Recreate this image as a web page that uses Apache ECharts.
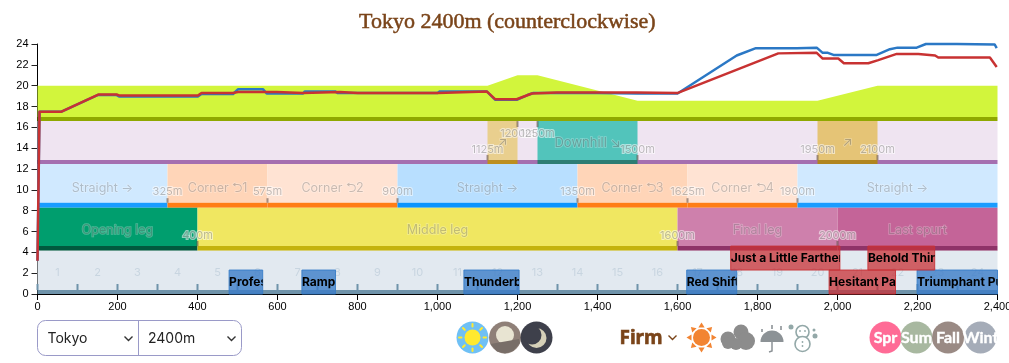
<!DOCTYPE html>
<html><head><meta charset="utf-8">
<style>html,body{margin:0;padding:0;background:#fff;overflow:hidden}#c{width:1009px;height:363px}</style>
<script src="https://cdn.jsdelivr.net/npm/echarts@6/dist/echarts.min.js"></script>
</head><body><div id="c"></div>
<script>
const titleText = 'Tokyo 2400m (counterclockwise)';
const blueSpeed = [[0,3.2],[5,17.5],[60,17.5],[150,19.1],[198,19.1],[205,18.95],[400,18.95],[410,19.2],[489,19.2],[501,19.65],[564,19.65],[573,19.25],[664,19.25],[668,19.45],[744,19.45],[750,19.3],[1000,19.3],[1006,19.45],[1123,19.45],[1144,18.65],[1198,18.65],[1225,19.1],[1240,19.3],[1400,19.3],[1500,19.25],[1600,19.25],[1748,22.9],[1796,23.6],[1898,23.6],[1948,23.65],[1963,23.15],[1976,23.15],[1978,23.05],[1990,22.95],[2098,22.95],[2131,23.5],[2150,23.65],[2198,23.65],[2221,24],[2298,24],[2393,23.95],[2398,23.6]];
const redSpeed = [[0,3.2],[5,17.5],[60,17.5],[152,19.15],[198,19.15],[205,19.05],[401,19.05],[410,19.3],[489,19.3],[501,19.4],[598,19.4],[603,19.3],[664,19.3],[668,19.4],[756,19.4],[801,19.3],[1001,19.3],[1006,19.45],[1123,19.45],[1144,18.7],[1198,18.7],[1236,19.25],[1240,19.35],[1298,19.35],[1302,19.3],[1398,19.35],[1498,19.35],[1502,19.3],[1601,19.3],[1852,23.1],[1948,23.15],[1963,22.6],[2002,22.6],[2016,22.15],[2077,22.15],[2102,22.45],[2148,23.05],[2202,23.05],[2206,22.9],[2244,22.9],[2252,22.7],[2381,22.7],[2398,21.8]];
const elevation = [[0,20],[1125,20],[1200,21],[1250,21],[1500,18.55],[1950,18.55],[2100,20],[2400,20]];
const slopeStart = [1125,1250,1950];
const slopeEnd = [1200,1500,2100];
const slopeName = ['↗','Downhill ↘','↗'];
const slopeFill = ['#e9cf8e','#52c4bb','#e5c476'];
const slopeBase = ['#bd8f1e','#2d7d73','#b0851f'];
const slopeMarks = [1125,1200,1250,1500,1950,2100];
const slopeMarkHigh = [false,true,true,false,false,false];
const cornerStart = [0,325,575,900,1350,1625,1900];
const cornerEnd = [325,575,900,1350,1625,1900,2400];
const cornerName = ['Straight →','Corner ⮌1','Corner ⮌2','Straight →','Corner ⮌3','Corner ⮌4','Straight →'];
const cornerFill = ['#d0e9ff','#ffd5b8','#ffe3d3','#b8dfff','#ffd5b8','#ffe3d3','#d0e9ff'];
const cornerBase = ['#1a9cff','#ff7d15','#ff7d15','#0a94ff','#ff7d15','#ff7d15','#1a9cff'];
const cornerMarks = [325,575,900,1350,1625,1900];
const phaseStart = [0,400,1600,2000];
const phaseEnd = [400,1600,2000,2400];
const phaseName = ['Opening leg','Middle leg','Final leg','Last spurt'];
const phaseFill = ['#009e6e','#f0e761','#ce80ac','#c46498'];
const phaseBase = ['#00593e','#c4b30d','#8f3368','#8f3368'];
const phaseMarks = [400,1600,2000];
const sections = ['1','2','3','4','5','6','7','8','9','10','11','12','13','14','15','16','17','18','19','20','21','22','23','24'];
const skillStart = [479,661,1066,1623,2199,1733,2076,1979];
const skillEnd = [563,745,1204,1748,2420,2006,2243,2145];
const skillName = ['Professor of Curvature','Ramp Revving','Thunderbolt Step','Red Shift','Triumphant Pulse','Just a Little Farther!','Behold Thine Emperor','Hesitant Pace Chasers'];
const skillRow = [0,0,0,0,0,1,1,0];
const skillKind = ['b','b','b','b','b','r','r','r'];

const L = {elevBase:[16.6,17],slope:[12.86,16.6],slopeBase:[12.48,12.86],corner:[8.76,12.48],cornerBase:[8.28,8.76],
  phase:[4.6,8.28],phaseBase:[4.16,4.6],sect:[0.38,4.16],sectBase:[0,0.38]};
const MUTED='rgba(40,40,40,.25)', HALO='rgba(255,255,255,.28)';
const MARK={fill:'rgba(50,50,50,.3)',stroke:'rgba(255,255,255,.55)',lw:2};
const FF='Inter, "Noto Sans", sans-serif';

function rect(api,x0,x1,lane,fill,extra){
  const a=api.coord([x0,lane[1]]), b=api.coord([x1,lane[0]]);
  return Object.assign({type:'rect',shape:{x:a[0],y:a[1],width:b[0]-a[0],height:b[1]-a[1]},style:{fill:fill}},extra||{});
}
function txt(api,x,v,s,o){
  const p=api.coord([x,v]); o=o||{};
  return {type:'text',style:{text:s,x:p[0],y:p[1],align:'center',verticalAlign:'middle',font:(o.font||'11px '+FF),
    fill:o.fill||MUTED,stroke:o.stroke||HALO,lineWidth:o.lw==null?1.5:o.lw}};
}
function tick(api,x,v0,v1,col){
  const a=api.coord([x,v1]),b=api.coord([x,v0]);
  return {type:'rect',shape:{x:a[0]-1,y:a[1],width:2,height:b[1]-a[1]},style:{fill:col||'rgba(90,70,60,.55)'}};
}
function single(fn,z){return {type:'custom',z:z,clip:false,silent:true,data:[[0]],renderItem:(p,api)=>({type:'group',children:fn(api)})};}

const bandsBelow = single(api=>{
  const c=[];
  c.push(rect(api,0,2400,L.elevBase,'#8fa800'));
  c.push(rect(api,0,2400,L.slope,'#efe4f1'));
  c.push(rect(api,0,2400,L.slopeBase,'#a56fb0'));
  slopeStart.forEach((s,i)=>{c.push(rect(api,s,slopeEnd[i],L.slope,slopeFill[i]));c.push(rect(api,s,slopeEnd[i],L.slopeBase,slopeBase[i]));});
  cornerStart.forEach((s,i)=>{c.push(rect(api,s,cornerEnd[i],L.corner,cornerFill[i]));c.push(rect(api,s,cornerEnd[i],L.cornerBase,cornerBase[i]));});
  phaseStart.forEach((s,i)=>{c.push(rect(api,s,phaseEnd[i],L.phase,phaseFill[i]));c.push(rect(api,s,phaseEnd[i],L.phaseBase,phaseBase[i]));});
  c.push(rect(api,0,2400,L.sect,'#e2e9f0'));
  c.push(rect(api,0,2400,L.sectBase,'#6f93aa'));
  sections.forEach((s,i)=>{c.push(tick(api,i*100,0.38,0.96,'#6f93aa'));});
  return c;
},2);

const labels = single(api=>{
  const c=[];
  slopeStart.forEach((s,i)=>c.push(txt(api,(s+slopeEnd[i])/2,14.45,slopeName[i],{font:'13px '+FF,fill:'rgba(40,40,40,.3)'})));
  slopeMarks.forEach((m,i)=>{
    if(slopeMarkHigh[i]){c.push(tick(api,m,16.03,16.6));c.push(txt(api,m,15.43,m+'m',MARK));}
    else{c.push(tick(api,m,12.86,13.34));c.push(txt(api,m,13.9,m+'m',MARK));}
  });
  cornerStart.forEach((s,i)=>c.push(txt(api,(s+cornerEnd[i])/2,10.2,cornerName[i],{font:'12.5px '+FF})));
  cornerMarks.forEach(m=>{c.push(tick(api,m,8.76,9.2));c.push(txt(api,m,9.79,m+'m',MARK));});
  phaseStart.forEach((s,i)=>c.push(txt(api,(s+phaseEnd[i])/2,6.14,phaseName[i],{font:'12.5px '+FF})));
  phaseMarks.forEach(m=>{c.push(tick(api,m,4.6,5.09));c.push(txt(api,m,5.6,m+'m',MARK));});
  sections.forEach((s,i)=>c.push(txt(api,i*100+50,2.04,s,{font:'11px '+FF,fill:'#c8d5e0',lw:0})));
  return c;
},6);

const skills = single(api=>{
  const c=[];
  skillStart.forEach((s,i)=>{
    const lane=skillRow[i]?[2.3,4.6]:[0,2.3];
    const isB=skillKind[i]==='b';
    const e=Math.min(skillEnd[i],2400);
    const r=rect(api,s,e,lane,isB?'rgba(60,125,200,.8)':'rgba(200,50,55,.75)');
    r.style.stroke=isB?'rgba(55,125,200,.9)':'rgba(200,50,55,.9)';r.style.lineWidth=1;
    c.push(r);
    const t=txt(api,s,(lane[0]+lane[1])/2,skillName[i],{font:'bold 12px '+FF,fill:'#000',lw:0});
    t.style.align='left';
    t.clipPath={type:'rect',shape:Object.assign({},r.shape)};
    c.push(t);
  });
  return c;
},7);

const chevron=(x,y,col)=>({type:'polyline',shape:{points:[[x-4,y-2],[x,y+2],[x+4,y-2]]},style:{stroke:col,lineWidth:1.4,fill:null}});
const disc=(x,y,r,fill)=>({type:'circle',shape:{cx:x,cy:y,r:r},style:{fill:fill}});
function rays(cx,cy,r0,r1,n,col,w){
  const o=[];
  for(const k of Array(n).keys()){const a=k/n*2*Math.PI;
    o.push({type:'line',shape:{x1:cx+r0*Math.cos(a),y1:cy+r0*Math.sin(a),x2:cx+r1*Math.cos(a),y2:cy+r1*Math.sin(a)},style:{stroke:col,lineWidth:w,lineCap:'round'}});}
  return o;
}
function spikes(cx,cy,r0,r1,n,col){
  const o=[];
  for(const k of Array(n).keys()){const a=k/n*2*Math.PI,d=0.3;
    o.push({type:'polygon',shape:{points:[[cx+r0*Math.cos(a-d),cy+r0*Math.sin(a-d)],[cx+r1*Math.cos(a),cy+r1*Math.sin(a)],[cx+r0*Math.cos(a+d),cy+r0*Math.sin(a+d)]]},style:{fill:col}});}
  return o;
}
const seasons=[['Spr',885.5,'#ff6b96'],['Sum',916.5,'#a8b8a0'],['Fall',948,'#9a8a84'],['Wint',980.5,'#a5acb8']];
const CL='#8c8c8c', SN='#93a8a8', UM='#8c9296';
const gfx=[
  {type:'rect',shape:{x:37.5,y:320.5,width:204,height:35,r:8},style:{fill:'#fff',stroke:'#9a9ac8',lineWidth:1}},
  {type:'line',shape:{x1:138.5,y1:320.5,x2:138.5,y2:355.5},style:{stroke:'#9a9ac8',lineWidth:1}},
  {type:'text',style:{x:47.5,y:338.5,text:'Tokyo',font:'14px Inter, sans-serif',fill:'#222',verticalAlign:'middle'}},
  {type:'text',style:{x:148,y:338.5,text:'2400m',font:'14px Inter, sans-serif',fill:'#222',verticalAlign:'middle'}},
  chevron(128.5,338.5,'#333'),chevron(231.5,338.5,'#333'),
  // day
  disc(472.5,337.5,16,'#6fc0f5'),...rays(472.5,337.5,11,13.5,8,'#ffe92e',2),disc(472.5,337.5,8,'#ffe92e'),
  // evening
  disc(505,337.5,16,'#8f8078'),disc(505,335,9,'#e8e4d2'),
  {type:'polygon',shape:{points:[[490.5,344],[519,339],[520,343],[513,351],[505,353.5],[497,351.5]]},style:{fill:'#786e68'}},
  // night
  disc(536.5,337.5,16,'#3e404b'),disc(536.5,338,10,'#d5d0b8'),disc(532,335,9.5,'#3e404b'),
  // ground
  {type:'text',style:{x:619.5,y:338.5,text:'Firm',font:'bold 19px "Noto Sans", sans-serif',fill:'#7a4419',stroke:'#7a4419',lineWidth:.6,verticalAlign:'middle'}},
  chevron(672.5,337.5,'#7a4419'),
  ...spikes(701.5,337.5,10.5,15,8,'#f28432'),disc(701.5,337.5,8.5,'#f28432'),
  // cloud
  disc(728,339,7.5,CL),disc(741,332,7.5,CL),disc(746,341,9,CL),disc(736,344,6,CL),disc(728,343,6,CL),
  // rain
  {type:'sector',shape:{cx:772,cy:342,r0:0,r:11.5,startAngle:Math.PI,endAngle:2*Math.PI},style:{fill:UM}},
  {type:'polyline',shape:{points:[[772,342],[772,351],[769,352]]},style:{stroke:UM,lineWidth:1.5,fill:null}},
  {type:'line',shape:{x1:762,y1:329,x2:762,y2:332},style:{stroke:UM,lineWidth:1.6}},
  {type:'line',shape:{x1:772,y1:325,x2:772,y2:329},style:{stroke:UM,lineWidth:1.6}},
  {type:'line',shape:{x1:781,y1:326,x2:781,y2:330},style:{stroke:UM,lineWidth:1.6}},
  // snow
  {type:'circle',shape:{cx:802.5,cy:332,r:6.5},style:{fill:'#fff',stroke:SN,lineWidth:1.6}},
  {type:'circle',shape:{cx:802.5,cy:344,r:7.5},style:{fill:'#fff',stroke:SN,lineWidth:1.6}},
  disc(800,331,.9,SN),disc(805,331,.9,SN),disc(802.5,342,.9,SN),disc(802.5,346,.9,SN),
  disc(791,327,2.5,SN),disc(815,336,2.5,SN),disc(814,330,1.5,SN),
  // seasons
  ...seasons.flatMap(s=>[disc(s[1],337.5,16,s[2]),
    {type:'text',style:{x:s[1],y:337.5,text:s[0],font:'bold 16px Lato, sans-serif',fill:'#fff',stroke:'#fff',lineWidth:.4,align:'center',verticalAlign:'middle'}}])
];
gfx.forEach(g=>{g.silent=true;g.z=20;});

const chart=echarts.init(document.getElementById('c'),null,{renderer:'canvas'});
chart.setOption({
  animation:false,
  backgroundColor:'#fff',
  title:{text:titleText,left:354,top:6,textStyle:{fontFamily:'"Liberation Serif", serif',fontSize:22,fontWeight:'normal',color:'#7a4419',textBorderColor:'#7a4419',textBorderWidth:.5}},
  grid:{left:37.5,right:11.5,top:44,bottom:69,containLabel:false,outerBoundsMode:'none'},
  xAxis:{type:'value',min:0,max:2400,interval:200,splitLine:{show:false},
    axisLine:{onZero:false,lineStyle:{color:'#000',width:1}},axisTick:{length:6,lineStyle:{color:'#000'}},
    axisLabel:{margin:7,fontFamily:'"Liberation Sans", sans-serif',fontSize:11,color:'#000',showMaxLabel:true,hideOverlap:false,
      formatter:v=>v.toLocaleString('en-US')}},
  yAxis:{type:'value',min:0,max:24,interval:2,splitLine:{show:false},
    axisLine:{show:true,onZero:false,lineStyle:{color:'#000',width:1}},axisTick:{show:true,length:6,lineStyle:{color:'#222'}},
    axisLabel:{margin:9,fontFamily:'"Liberation Sans", sans-serif',fontSize:11,color:'#000'}},
  graphic:{elements:gfx},
  series:[
    bandsBelow,
    {type:'line',z:3,data:elevation,showSymbol:false,silent:true,lineStyle:{width:0},itemStyle:{color:'#d2f53c'},areaStyle:{color:'#d2f53c',opacity:1,origin:17}},
    labels,
    skills,
    {type:'line',z:8,data:blueSpeed,showSymbol:false,silent:true,clip:false,lineStyle:{color:'#2b78c5',width:2.5,join:'round'},itemStyle:{color:'#2b78c5'}},
    {type:'line',z:9,data:redSpeed,showSymbol:false,silent:true,clip:false,lineStyle:{color:'#c83232',width:2.5,join:'round'},itemStyle:{color:'#c83232'}}
  ]
});
</script></body></html>
